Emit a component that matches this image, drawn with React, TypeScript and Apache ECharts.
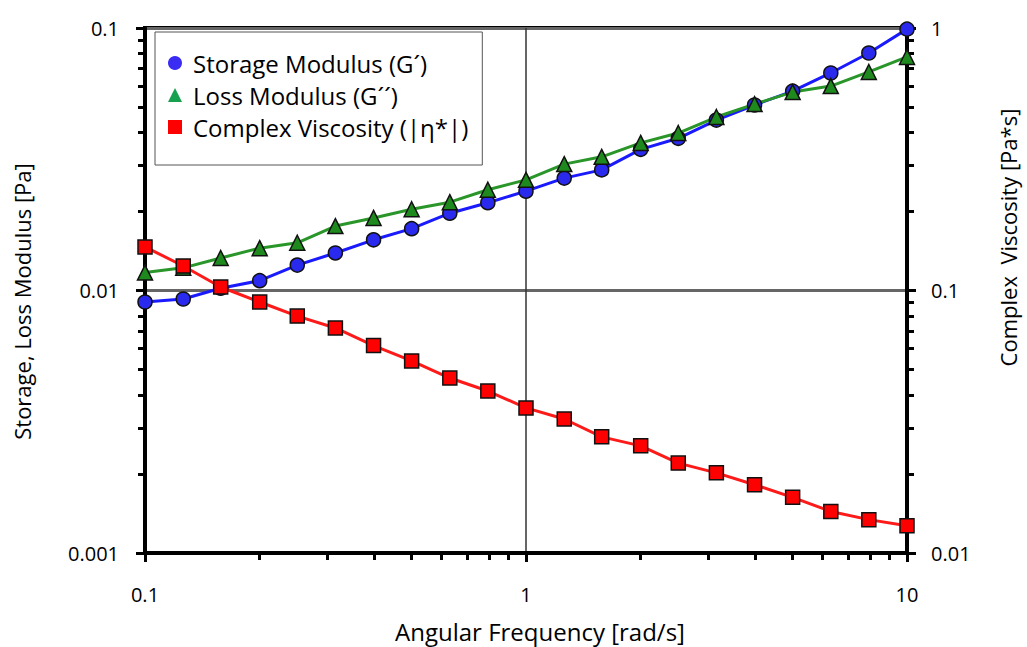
import React, { useEffect, useRef } from "react";
import * as echarts from "echarts";

const frequency = [0.1, 0.126, 0.158, 0.2, 0.251, 0.316, 0.398, 0.501, 0.631, 0.794, 1, 1.26, 1.58, 2, 2.51, 3.16, 3.98, 5.01, 6.31, 7.94, 10];
const storageModulus = [0.00904, 0.00928, 0.0102, 0.0109, 0.0125, 0.0139, 0.0156, 0.0172, 0.0197, 0.0216, 0.0239, 0.0268, 0.0288, 0.0345, 0.038, 0.0446, 0.0509, 0.0575, 0.0674, 0.0803, 0.099];
const lossModulus = [0.0117, 0.0122, 0.0133, 0.0145, 0.0152, 0.0176, 0.0189, 0.0204, 0.0217, 0.0242, 0.0264, 0.0303, 0.0323, 0.0365, 0.0398, 0.0458, 0.0513, 0.057, 0.0601, 0.068, 0.0776];
const complexViscosity = [0.1466, 0.124, 0.1031, 0.0904, 0.0799, 0.072, 0.0617, 0.0539, 0.0464, 0.0414, 0.0357, 0.0324, 0.0277, 0.0256, 0.022, 0.0202, 0.0182, 0.0163, 0.0144, 0.0134, 0.0127];

const seriesNames = ["Storage Modulus (G´)", "Loss Modulus (G´´)", "Complex Viscosity (|η*|)"];
const xMajorTicks = [0.1, 1, 10];
const leftMajorTicks = [0.001, 0.01, 0.1];
const rightMajorTicks = [0.01, 0.1, 1];

function minorTicks(majors: number[]): number[] {
  const out: number[] = [];
  for (let i = 0; i < majors.length - 1; i++) {
    for (let k = 2; k <= 9; k++) out.push(+(majors[i] * k).toPrecision(6));
  }
  return out;
}

const fmt = (v: number) => String(+Number(v).toPrecision(6));
const FONT = "Open Sans";

export default function App() {
  const ref = useRef<HTMLDivElement>(null);
  useEffect(() => {
    document.body.style.margin = "0";
    const chart = echarts.init(ref.current!, null, { renderer: "svg" });
    const pair = (ys: number[]) => frequency.map((x, i) => [x, ys[i]]);
    const axisLine = { show: true, onZero: false, lineStyle: { color: "#000", width: 4 } };
    const majorTick = { show: true, inside: false, length: 9, lineStyle: { color: "#000", width: 3 } };
    const minorTick = { show: true, inside: false, length: 7, lineStyle: { color: "#000", width: 3 } };
    const labelStyle = { color: "#000", fontFamily: FONT, fontSize: 20, formatter: fmt };
    const minorAxis = (type: string, min: number, max: number, position: string, ticks: number[]) => ({
      type, logBase: 10, min, max, position,
      axisLine: { show: false, onZero: false }, axisLabel: { show: false }, splitLine: { show: false },
      axisTick: { ...minorTick, customValues: ticks },
    });
    chart.setOption({
      animation: false,
      backgroundColor: "#fff",
      grid: { left: 145, right: 120, top: 28, bottom: 94, show: true, borderColor: "#000", borderWidth: 4, backgroundColor: "transparent", outerBoundsMode: "none" },
      legend: {
        left: 155, top: 32, orient: "vertical",
        backgroundColor: "#fff", borderColor: "#555", borderWidth: 1,
        padding: [19, 14, 26, 13], itemGap: 8, itemWidth: 14, itemHeight: 14,
        textStyle: { fontFamily: FONT, fontSize: 24, color: "#000", lineHeight: 24, padding: [0, 0, 0, 6] },
        itemStyle: { borderWidth: 0 },
        data: [
          { name: seriesNames[0], icon: "circle", itemStyle: { color: "#3a2cf2" } },
          { name: seriesNames[1], icon: "triangle", itemStyle: { color: "#16a050" } },
          { name: seriesNames[2], icon: "rect", itemStyle: { color: "#f00" } },
        ],
      },
      xAxis: [
        {
          type: "log", logBase: 10, min: 0.1, max: 10, position: "bottom",
          name: "Angular Frequency [rad/s]", nameLocation: "middle", nameGap: 66,
          nameTextStyle: { fontFamily: FONT, fontSize: 24, color: "#000", padding: [0, 0, 0, 28] },
          axisLine, axisTick: { ...majorTick, customValues: xMajorTicks },
          axisLabel: { ...labelStyle, margin: 31, customValues: xMajorTicks },
          splitLine: { show: true, lineStyle: { color: "#333", width: 1.5 } },
        },
        minorAxis("log", 0.1, 10, "bottom", minorTicks(xMajorTicks)),
      ],
      yAxis: [
        {
          type: "log", logBase: 10, min: 0.001, max: 0.1, position: "left",
          name: "Storage, Loss Modulus [Pa]", nameLocation: "middle", nameGap: 112, nameRotate: 90,
          nameTextStyle: { fontFamily: FONT, fontSize: 22, color: "#000", padding: [0, 22, 0, 0] },
          axisLine, axisTick: { ...majorTick, customValues: leftMajorTicks },
          axisLabel: { ...labelStyle, margin: 26, customValues: leftMajorTicks },
          splitLine: { show: true, lineStyle: { color: "#666", width: 3 } },
        },
        {
          type: "log", logBase: 10, min: 0.01, max: 1, position: "right",
          name: "Complex  Viscosity [Pa*s]", nameLocation: "middle", nameGap: 90, nameRotate: 90,
          nameTextStyle: { fontFamily: FONT, fontSize: 22, color: "#000", padding: [0, 0, 0, 106] },
          axisLine, axisTick: { ...majorTick, customValues: rightMajorTicks },
          axisLabel: { ...labelStyle, margin: 24, customValues: rightMajorTicks },
          splitLine: { show: false },
        },
        minorAxis("log", 0.001, 0.1, "left", minorTicks(leftMajorTicks)),
        minorAxis("log", 0.01, 1, "right", minorTicks(rightMajorTicks)),
      ],
      series: [
        {
          name: seriesNames[0], type: "line", xAxisIndex: 0, yAxisIndex: 0, data: pair(storageModulus),
          symbol: "circle", symbolSize: 14,
          lineStyle: { color: "#1a1aff", width: 3 },
          itemStyle: { color: "#2a2aee", borderColor: "#111", borderWidth: 1.5 },
        },
        {
          name: seriesNames[1], type: "line", xAxisIndex: 0, yAxisIndex: 0, data: pair(lossModulus),
          symbol: "triangle", symbolSize: 15,
          lineStyle: { color: "#2a962a", width: 3 },
          itemStyle: { color: "#1e8a1e", borderColor: "#111", borderWidth: 1.5 },
        },
        {
          name: seriesNames[2], type: "line", xAxisIndex: 0, yAxisIndex: 1, data: pair(complexViscosity),
          symbol: "rect", symbolSize: 14,
          lineStyle: { color: "#ff1a1a", width: 3 },
          itemStyle: { color: "#ff0000", borderColor: "#111", borderWidth: 1.5 },
        },
      ],
    });
    return () => chart.dispose();
  }, []);
  return <div ref={ref} style={{ width: 1027, height: 647 }} />;
}
